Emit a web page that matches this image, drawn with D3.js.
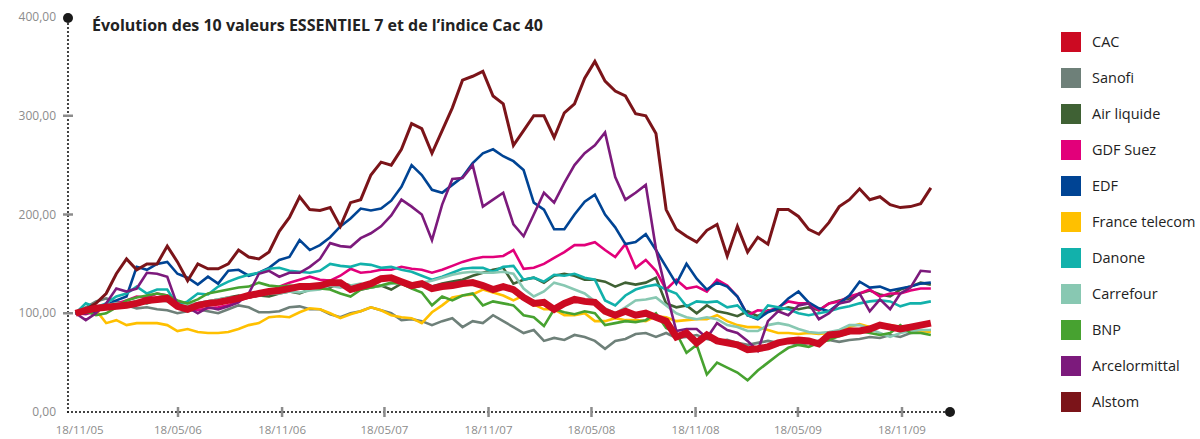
<!DOCTYPE html>
<html>
<head>
<meta charset="utf-8">
<script src="https://cdn.jsdelivr.net/npm/d3@7"></script>
<style>
  body { margin: 0; background: #fff; }
  svg text { font-family: "Open Sans", "DejaVu Sans", sans-serif; }
</style>
</head>
<body>
<div id="chart"></div>
<script>
// samples every 18 days starting 18/11/2005 (base 100)
const startDate = new Date(2005, 10, 18);
const stepDays = 18;

const names = ["CAC", "Sanofi", "Air liquide", "GDF Suez", "EDF", "France telecom", "Danone", "Carrefour", "BNP", "Arcelormittal", "Alstom"];
const colors = ["#cc0a22", "#6e8079", "#3f6134", "#e2007a", "#004494", "#ffc000", "#12b1ab", "#88c8b2", "#47a230", "#7c1a7c", "#7b1419"];

const cac = [100,103,105,106,107,108,110,113,114,115,
  107,104,108,110,111,113,115,118,120,122,
  123,125,127,127,128,131,131,124,127,130,
  135,136,132,128,130,125,127,128,130,131,
  128,124,127,124,116,110,111,104,110,114,
  112,111,102,98,102,98,100,96,92,76,
  80,70,78,72,70,68,63,64,66,70,
  72,73,72,69,78,79,82,82,84,88,
  86,84,86,88,90];
const sanofi = [100,106,112,115,112,108,105,106,104,103,
  100,102,104,102,100,104,108,106,101,101,
  102,106,107,104,104,99,96,100,102,106,
  103,100,93,94,92,88,92,95,86,92,
  90,98,92,86,80,83,72,75,73,78,
  76,72,64,72,74,79,80,76,80,75,
  76,78,74,72,73,70,68,70,72,70,
  71,68,70,72,73,71,73,74,76,75,
  78,76,80,81,83];
const airLiquide = [100,102,104,106,106,110,112,110,114,116,
  112,108,110,112,114,116,118,116,118,117,
  120,122,120,124,128,126,131,128,124,126,
  128,124,130,126,128,127,130,132,134,138,
  141,144,146,130,134,136,131,138,140,138,
  134,134,132,127,131,129,131,136,110,106,
  108,100,108,102,100,97,102,97,103,103,
  106,104,106,103,110,113,115,120,123,119,
  117,124,127,131,129];
const gdfSuez = [100,99,102,106,110,113,117,116,120,118,
  112,106,103,105,106,108,113,116,118,121,
  127,131,134,137,134,133,138,145,141,142,
  144,144,147,145,144,141,144,148,152,155,
  157,157,158,164,145,146,150,156,162,169,
  169,172,164,157,170,146,154,143,124,134,
  125,127,122,134,128,117,98,103,102,106,
  112,110,110,103,110,112,117,120,124,117,
  120,120,123,125,125];
const edf = [100,100,102,108,113,117,147,144,150,152,
  140,136,129,137,130,143,144,138,141,146,
  154,157,174,164,169,177,188,196,206,204,
  206,214,228,250,240,225,222,230,238,252,
  262,266,259,254,245,212,205,185,185,200,
  213,220,200,187,170,172,180,164,147,130,
  150,135,124,131,127,117,98,94,101,105,
  115,122,111,105,102,110,118,132,126,127,
  123,125,127,130,131];
const franceTelecom = [100,101,103,90,93,88,90,90,90,88,
  82,84,81,80,80,81,84,88,90,96,
  97,96,101,105,104,100,95,99,102,106,
  103,98,96,95,90,101,108,116,118,119,
  124,121,118,113,118,109,104,104,98,98,
  100,92,92,95,93,93,92,97,96,92,
  93,94,94,98,92,88,86,86,83,80,
  80,79,80,79,80,81,86,89,86,88,
  88,86,84,82,81];
const danone = [100,110,106,110,117,120,127,120,124,124,
  108,112,120,119,127,132,136,139,141,145,
  146,143,142,141,143,150,148,147,150,149,
  146,147,144,142,138,134,137,141,145,146,
  146,142,147,148,134,136,132,139,138,140,
  136,134,113,108,118,124,127,129,124,120,
  107,112,111,112,106,108,98,95,108,106,
  104,100,98,100,102,105,107,110,112,113,
  112,107,110,110,112];
const carrefour = [100,104,106,108,110,109,112,113,114,112,
  108,108,110,112,114,116,115,117,118,120,
  120,122,121,123,124,128,126,128,130,126,
  128,130,131,128,131,133,136,139,141,142,
  141,141,142,140,125,117,122,131,128,124,
  120,112,105,100,106,113,114,116,108,100,
  96,94,96,94,88,86,82,82,88,90,
  88,84,81,80,81,83,88,88,84,80,
  76,80,82,83,83];
const bnp = [100,102,98,100,106,113,116,118,120,118,
  113,110,114,120,122,124,126,127,131,128,
  127,128,127,126,125,124,120,117,124,126,
  128,131,130,125,121,108,117,113,118,120,
  108,112,110,108,98,96,87,104,101,99,
  102,100,88,90,92,91,93,100,85,80,
  60,68,38,50,45,40,32,42,50,58,
  65,68,66,70,73,77,80,82,80,78,
  80,88,80,80,78];
const arcelor = [100,93,100,110,125,122,125,141,140,137,
  108,106,100,106,104,107,111,120,140,143,
  137,141,141,147,155,171,168,167,176,181,
  188,199,215,208,200,174,210,236,237,250,
  208,215,222,190,178,200,222,212,232,250,
  262,270,283,238,215,222,230,165,122,82,
  84,84,75,90,83,80,72,62,92,102,
  98,108,110,94,100,110,112,120,102,114,
  104,120,126,143,142];
const alstom = [100,104,110,120,140,155,144,150,150,168,
  152,133,150,145,145,150,164,157,155,162,
  183,197,218,205,204,207,188,212,215,240,
  253,250,266,292,287,262,285,308,336,340,
  345,320,312,270,285,300,300,278,303,312,
  338,355,335,325,320,302,300,282,205,185,
  178,172,184,190,158,188,162,177,170,205,
  205,198,185,180,192,208,215,226,215,218,
  210,207,208,211,227];

const seriesValues = [cac, sanofi, airLiquide, gdfSuez, edf, franceTelecom, danone, carrefour, bnp, arcelor, alstom];

const yTicks = [0, 100, 200, 300, 400];
const xTickLabels = ["18/11/05", "18/05/06", "18/11/06", "18/05/07", "18/11/07", "18/05/08", "18/11/08", "18/05/09", "18/11/09"];

const title = "Évolution des 10 valeurs ESSENTIEL 7 et de l’indice Cac 40";

const W = 1200, H = 439;
const axisX = 68, axisY = 412, axisEnd = 950;

const svg = d3.select("#chart").append("svg")
  .attr("width", W)
  .attr("height", H);

const parse = d3.timeParse("%d/%m/%y");
const dates = d3.range(cac.length).map(i => d3.timeDay.offset(startDate, i * stepDays));

const x = d3.scaleTime()
  .domain([parse("18/05/06"), parse("18/11/09")])
  .range([178, 902]);
const y = d3.scaleLinear()
  .domain([0, 400])
  .range([axisY, 17]);

// y axis (dotted) with top dot
svg.append("line")
  .attr("x1", axisX).attr("x2", axisX)
  .attr("y1", axisY).attr("y2", y(400))
  .attr("stroke", "#1a1a1a")
  .attr("stroke-width", 2.2)
  .attr("stroke-linecap", "round")
  .attr("stroke-dasharray", "0 4");
svg.append("circle")
  .attr("cx", axisX).attr("cy", y(400) + 1).attr("r", 5)
  .attr("fill", "#1a1a1a");

// x axis (dotted) with end dot
svg.append("line")
  .attr("x1", axisX).attr("x2", axisEnd)
  .attr("y1", axisY).attr("y2", axisY)
  .attr("stroke", "#1a1a1a")
  .attr("stroke-width", 2.2)
  .attr("stroke-linecap", "round")
  .attr("stroke-dasharray", "0 4");
svg.append("circle")
  .attr("cx", axisEnd).attr("cy", axisY).attr("r", 5)
  .attr("fill", "#1a1a1a");

// y ticks
const fmt = v => d3.format(".2f")(v).replace(".", ",");
svg.selectAll(".ytick").data(yTicks.filter(d => d > 0 && d < 400)).enter()
  .append("line")
    .attr("x1", axisX - 5).attr("x2", axisX + 5)
    .attr("y1", d => y(d)).attr("y2", d => y(d))
    .attr("stroke", "#8c8c8c")
    .attr("stroke-width", 2.5);
svg.selectAll(".ylab").data(yTicks).enter()
  .append("text")
    .attr("x", 56)
    .attr("y", d => y(d) + 4)
    .attr("text-anchor", "end")
    .attr("font-size", 12)
    .attr("fill", "#8c8c8c")
    .text(d => fmt(d));

// x ticks
svg.selectAll(".xtick").data(xTickLabels.slice(1)).enter()
  .append("line")
    .attr("x1", d => x(parse(d))).attr("x2", d => x(parse(d)))
    .attr("y1", axisY - 5).attr("y2", axisY + 5)
    .attr("stroke", "#8c8c8c")
    .attr("stroke-width", 2.5);
svg.selectAll(".xlab").data(xTickLabels).enter()
  .append("text")
    .attr("x", (d, i) => x(parse(d)) + (i === 0 ? 4 : 0))
    .attr("y", 434)
    .attr("text-anchor", "middle")
    .attr("font-size", 11.5)
    .attr("fill", "#8c8c8c")
    .text(d => d);

// title
svg.append("text")
  .attr("x", 92)
  .attr("y", 31)
  .attr("font-size", 16)
  .attr("font-weight", 700)
  .attr("fill", "#222")
  .text(title);

// lines
const line = d3.line()
  .x((d, i) => x(dates[i]))
  .y(d => y(d));

const drawOrder = [1, 2, 3, 4, 5, 6, 7, 8, 9, 10, 0];
const lineG = svg.append("g");
for (let k of drawOrder) {
  lineG.append("path")
    .datum(seriesValues[k])
    .attr("fill", "none")
    .attr("stroke", colors[k])
    .attr("stroke-width", k === 0 ? 7 : (k === 10 ? 3 : 2.6))
    .attr("stroke-linejoin", "miter")
    .attr("d", line);
}

// legend
const legend = svg.append("g").attr("transform", "translate(1061, 32)");
const items = legend.selectAll("g").data(names).enter()
  .append("g")
    .attr("transform", (d, i) => `translate(0, ${i * 36})`);
items.append("rect")
  .attr("width", 20).attr("height", 20)
  .attr("fill", (d, i) => colors[i]);
items.append("text")
  .attr("x", 31)
  .attr("y", 15)
  .attr("font-size", 14.5)
  .attr("fill", "#222")
  .text(d => d);
</script>
</body>
</html>
